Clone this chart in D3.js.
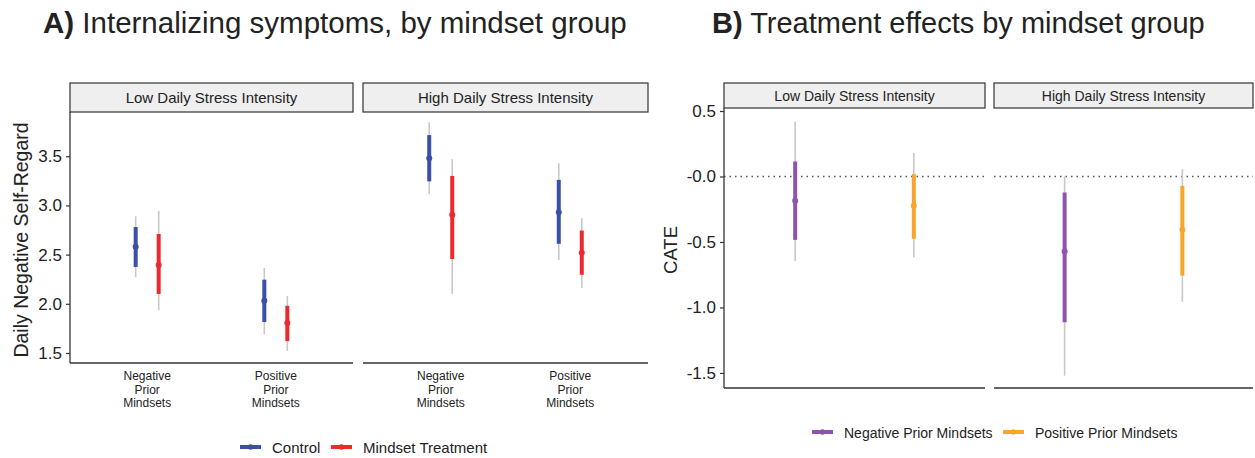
<!DOCTYPE html>
<html>
<head>
<meta charset="utf-8">
<script src="https://cdn.jsdelivr.net/npm/d3@7"></script>
<style>
  body { margin: 0; background: #fff; }
  text { font-family: "Liberation Sans", Arial, sans-serif; fill: #222; }
</style>
</head>
<body>
<div id="chart"></div>
<script>
// data: facets and mindset groups
const facets = ["Low Daily Stress Intensity", "High Daily Stress Intensity"];
const mindsets = ["Negative Prior Mindsets", "Positive Prior Mindsets"];
const mindsetLabels = [["Negative", "Prior", "Mindsets"], ["Positive", "Prior", "Mindsets"]];
const conditions = ["Control", "Mindset Treatment"];

// panel A values, order: low-neg, low-pos, high-neg, high-pos
const controlMean = [2.58, 2.03, 3.48, 2.93];
const controlInnerLo = [2.375, 1.815, 3.245, 2.61];
const controlInnerHi = [2.78, 2.245, 3.715, 3.26];
const controlOuterLo = [2.27, 1.69, 3.115, 2.445];
const controlOuterHi = [2.89, 2.365, 3.845, 3.43];

const treatMean = [2.395, 1.805, 2.905, 2.52];
const treatInnerLo = [2.10, 1.62, 2.455, 2.295];
const treatInnerHi = [2.71, 1.98, 3.30, 2.745];
const treatOuterLo = [1.935, 1.52, 2.10, 2.16];
const treatOuterHi = [2.945, 2.08, 3.47, 2.87];

const yTicksA = [1.5, 2.0, 2.5, 3.0, 3.5];

// panel B values (CATE), order: low-neg, low-pos, high-neg, high-pos
const cateMean = [-0.186, -0.224, -0.573, -0.407];
const cateInnerLo = [-0.484, -0.476, -1.113, -0.757];
const cateInnerHi = [0.115, 0.018, -0.122, -0.071];
const cateOuterLo = [-0.645, -0.616, -1.521, -0.956];
const cateOuterHi = [0.42, 0.179, 0.0, 0.057];

const yTicksB = [0.5, 0.0, -0.5, -1.0, -1.5];
const yTickLabelsB = ["0.5", "-0.0", "-0.5", "-1.0", "-1.5"];

const WIDTH = 1255, HEIGHT = 458;
const AXIS_COLOR = "#333";
const CI_COLOR = "#c8c8c8";
const condColors = ["#3b4fa6", "#ec2a2e"];
const mindsetColors = ["#8e55b0", "#f9a52b"];

const svg = d3.select("#chart").append("svg")
    .attr("width", WIDTH)
    .attr("height", HEIGHT);

// build rows from arrays
function rowsFrom(mean, iLo, iHi, oLo, oHi, group) {
  return mean.map((m, i) => ({
    facet: facets[Math.floor(i / 2)],
    mindset: mindsets[i % 2],
    group: group,
    mean: m, iLo: iLo[i], iHi: iHi[i], oLo: oLo[i], oHi: oHi[i]
  }));
}

const rowsA = rowsFrom(controlMean, controlInnerLo, controlInnerHi, controlOuterLo, controlOuterHi, 0)
  .concat(rowsFrom(treatMean, treatInnerLo, treatInnerHi, treatOuterLo, treatOuterHi, 1));
const rowsB = cateMean.map((m, i) => ({
  facet: facets[Math.floor(i / 2)],
  mindset: mindsets[i % 2],
  group: i % 2,
  mean: m, iLo: cateInnerLo[i], iHi: cateInnerHi[i], oLo: cateOuterLo[i], oHi: cateOuterHi[i]
}));

// draws one faceted panel
function drawPanel(cfg) {
  const g = svg.append("g");
  const y = d3.scaleLinear().domain(cfg.yDomain).range([cfg.bottom, cfg.top]);

  cfg.facetX.forEach((fx, fi) => {
    const x = d3.scalePoint().domain(mindsets).range(fx).padding(0.6);

    // strip
    g.append("rect")
      .attr("x", fx[0]).attr("y", cfg.stripTop)
      .attr("width", fx[1] - fx[0]).attr("height", cfg.top - cfg.stripTop)
      .attr("fill", "#efefef").attr("stroke", AXIS_COLOR).attr("stroke-width", 1.2);
    g.append("text")
      .attr("x", (fx[0] + fx[1]) / 2).attr("y", (cfg.stripTop + cfg.top) / 2 + 5)
      .attr("text-anchor", "middle").attr("font-size", cfg.stripSize)
      .text(facets[fi]);

    // reference line
    if (cfg.refLine !== undefined) {
      g.append("line")
        .attr("x1", fx[0]).attr("x2", fx[1])
        .attr("y1", y(cfg.refLine)).attr("y2", y(cfg.refLine))
        .attr("stroke", "#555").attr("stroke-width", 1.3)
        .attr("stroke-dasharray", "1.5,4");
    }

    // bottom axis line
    g.append("line")
      .attr("x1", fx[0]).attr("x2", fx[1])
      .attr("y1", cfg.bottom).attr("y2", cfg.bottom)
      .attr("stroke", AXIS_COLOR).attr("stroke-width", 1.3);

    // category labels
    if (cfg.catLabels) {
      mindsets.forEach((m, mi) => {
        const t = g.append("text")
          .attr("x", x(m)).attr("y", cfg.bottom + 17)
          .attr("text-anchor", "middle").attr("font-size", 12);
        mindsetLabels[mi].forEach((ln, li) => {
          t.append("tspan").attr("x", x(m)).attr("dy", li === 0 ? 0 : 13.5).text(ln);
        });
      });
    }

    // intervals
    const rows = cfg.rows.filter((d) => d.facet === facets[fi]);
    const px = (d) => x(d.mindset) + (cfg.dodge ? (d.group === 0 ? -cfg.dodge : cfg.dodge) : 0);
    const marks = g.selectAll(null).data(rows).enter().append("g");
    marks.append("line")
      .attr("x1", px).attr("x2", px)
      .attr("y1", (d) => y(d.oLo)).attr("y2", (d) => y(d.oHi))
      .attr("stroke", CI_COLOR).attr("stroke-width", 1.6);
    marks.append("line")
      .attr("x1", px).attr("x2", px)
      .attr("y1", (d) => y(d.iLo)).attr("y2", (d) => y(d.iHi))
      .attr("stroke", (d) => cfg.colors[d.group]).attr("stroke-width", 4);
    marks.append("circle")
      .attr("cx", px).attr("cy", (d) => y(d.mean)).attr("r", 3)
      .attr("fill", (d) => cfg.colors[d.group]);
  });

  // y axis
  const yAxis = d3.axisLeft(y).tickValues(cfg.yTicks).tickSize(4).tickPadding(4)
    .tickFormat((d, i) => cfg.tickLabels ? cfg.tickLabels[i] : d3.format(".1f")(d));
  const ya = g.append("g")
    .attr("transform", `translate(${cfg.facetX[0][0]},0)`)
    .call(yAxis);
  ya.select(".domain").remove();
  ya.selectAll(".tick line").attr("stroke", AXIS_COLOR).attr("stroke-width", 1.2);
  ya.selectAll(".tick text").attr("font-size", 17)
    .attr("font-family", "Liberation Sans, Arial, sans-serif").attr("fill", "#333");
  g.append("line")
    .attr("x1", cfg.facetX[0][0]).attr("x2", cfg.facetX[0][0])
    .attr("y1", cfg.top).attr("y2", cfg.bottom)
    .attr("stroke", AXIS_COLOR).attr("stroke-width", 1.3);

  // y title
  g.append("text")
    .attr("transform", `translate(${cfg.yTitleX},${cfg.yTitleY}) rotate(-90)`)
    .attr("text-anchor", "middle").attr("font-size", cfg.yTitleSize).attr("fill", "#333")
    .text(cfg.yTitle);

  // panel title
  const title = g.append("text")
    .attr("x", cfg.titleX).attr("y", 33).attr("font-size", cfg.titleSize).attr("fill", "#2a2a2a");
  title.append("tspan").attr("font-weight", "bold").text(cfg.titleTag);
  title.append("tspan").text(" " + cfg.title);

  // legend
  const lg = g.append("g");
  cfg.legendItems.forEach((it, i) => {
    lg.append("line")
      .attr("x1", it.x).attr("x2", it.x + 21)
      .attr("y1", cfg.legendY).attr("y2", cfg.legendY)
      .attr("stroke", cfg.colors[i]).attr("stroke-width", 4);
    lg.append("circle")
      .attr("cx", it.x + 10.5).attr("cy", cfg.legendY).attr("r", 2.8)
      .attr("fill", cfg.colors[i]);
    lg.append("text")
      .attr("x", it.x + 32).attr("y", cfg.legendY + 5.5)
      .attr("font-size", cfg.legendSize).attr("fill", "#333")
      .text(it.label);
  });
}

drawPanel({
  rows: rowsA,
  facetX: [[70, 353], [363, 648]],
  stripTop: 83, top: 112, bottom: 363, stripSize: 15,
  yDomain: [1.398, 3.95], yTicks: yTicksA,
  dodge: 11.5, colors: condColors, catLabels: true,
  yTitle: "Daily Negative Self-Regard", yTitleX: 28, yTitleY: 240, yTitleSize: 19.5,
  titleX: 43, titleSize: 29.5, titleTag: "A)", title: "Internalizing symptoms, by mindset group",
  legendY: 447, legendSize: 15,
  legendItems: [{x: 240, label: conditions[0]}, {x: 331, label: conditions[1]}]
});

drawPanel({
  rows: rowsB,
  facetX: [[724, 985], [994, 1253]],
  stripTop: 83, top: 108, bottom: 388, stripSize: 14,
  yDomain: [-1.615, 0.523], yTicks: yTicksB, tickLabels: yTickLabelsB,
  refLine: 0, colors: mindsetColors, catLabels: false,
  yTitle: "CATE", yTitleX: 677, yTitleY: 250, yTitleSize: 18.5,
  titleX: 712, titleSize: 29, titleTag: "B)", title: "Treatment effects by mindset group",
  legendY: 432, legendSize: 14,
  legendItems: [{x: 812, label: mindsets[0]}, {x: 1003, label: mindsets[1]}]
});
</script>
</body>
</html>
